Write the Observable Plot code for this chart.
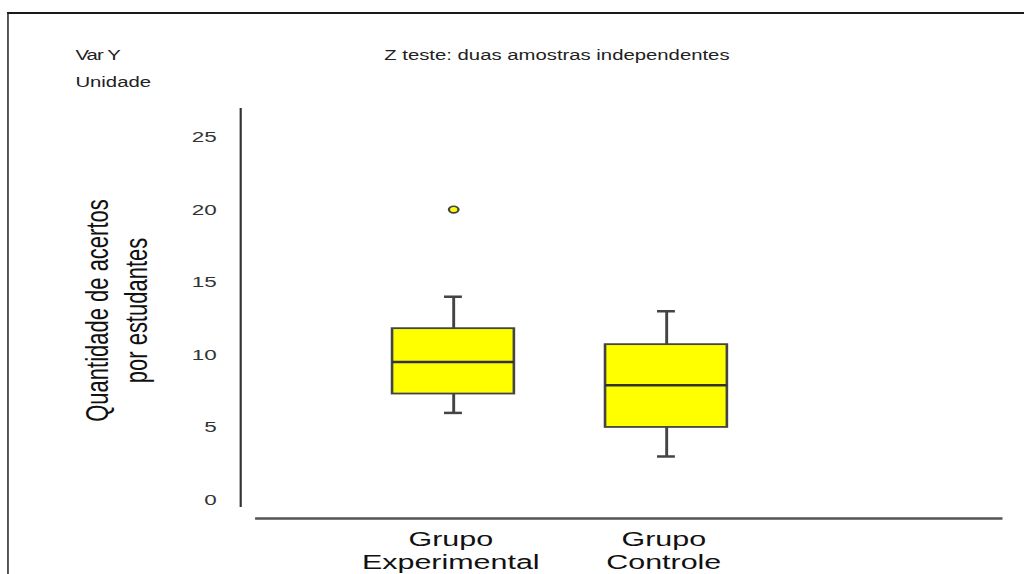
<!DOCTYPE html>
<html>
<head>
<meta charset="utf-8">
<script src="https://cdn.jsdelivr.net/npm/d3@7"></script>
<script src="https://cdn.jsdelivr.net/npm/@observablehq/plot@0.6"></script>
<style>
  html, body { margin: 0; padding: 0; background: #fff; overflow: hidden; }
  #stage { position: absolute; left: 0; top: 0; width: 706px; height: 574px;
           transform: scaleX(1.45); transform-origin: 0 0;
           font-family: "Liberation Sans", Arial, sans-serif; }
  #border { position: absolute; left: 5px; top: 12px; width: 800px; height: 700px;
            border-top: 2px solid #1a1a1a; border-left: 1.5px solid #1a1a1a; box-sizing: border-box; }
  .hdr { position: absolute; font-size: 14px; line-height: 16px; color: #222; white-space: nowrap; }
  #chart { position: absolute; left: 0; top: 100px; }
</style>
</head>
<body>
<div id="stage">
  <div id="border"></div>
  <div class="hdr" id="varY" style="left:52px; top:47px; letter-spacing:-0.6px;"></div>
  <div class="hdr" id="unit" style="left:52px; top:74px;"></div>
  <div class="hdr" id="title" style="left:265px; top:47px;"></div>
  <div id="chart"></div>
</div>
<script>
// ---- data ----
const groups = ["Grupo\nExperimental", "Grupo\nControle"];
const q1 = [7.3, 5.0];
const medians = [9.5, 7.9];
const q3 = [11.8, 10.7];
const whiskerLow = [6, 3];
const whiskerHigh = [14, 13];
const outlierGroupIndex = [0];
const outlierValues = [20];
const yTicks = [0, 5, 10, 15, 20, 25];
const yLabel = "Quantidade de acertos\npor estudantes";
const headerVar = "Var Y";
const headerUnit = "Unidade";
const titleText = "Z teste: duas amostras independentes";

document.getElementById("varY").textContent = headerVar;
document.getElementById("unit").textContent = headerUnit;
document.getElementById("title").textContent = titleText;

const rows = groups.map((g, i) => ({
  pos: i + 1, label: g, q1: q1[i], med: medians[i], q3: q3[i], lo: whiskerLow[i], hi: whiskerHigh[i]
}));
const outliers = outlierGroupIndex.map((gi, k) => ({ pos: gi + 1, value: outlierValues[k] }));

const bw = 0.286;   // half box width (x units)
const cw = 0.042;   // half cap width
const xDomain = [0, 3.6];
const yDomain = [-1.27, 26.96];

const chart = Plot.plot({
  width: 706,
  height: 474,
  marginLeft: 165.5,
  marginRight: 11.7,
  marginTop: 8,
  marginBottom: 56,
  x: { domain: xDomain, axis: null },
  y: { domain: yDomain, axis: null },
  style: { fontFamily: '"Liberation Sans", Arial, sans-serif', background: "transparent", color: "#222" },
  marks: [
    // axis lines
    Plot.ruleX([xDomain[0]], { y1: -0.52, y2: yDomain[1], stroke: "#333", strokeWidth: 1.5 }),
    Plot.ruleY([yDomain[0]], { x1: 0.071, x2: 3.58, stroke: "#555", strokeWidth: 2.5 }),
    // whiskers
    Plot.ruleX(rows, { x: "pos", y1: "lo", y2: "q1", stroke: "#444", strokeWidth: 2 }),
    Plot.ruleX(rows, { x: "pos", y1: "q3", y2: "hi", stroke: "#444", strokeWidth: 2 }),
    Plot.ruleY(rows, { y: "lo", x1: d => d.pos - cw, x2: d => d.pos + cw, stroke: "#444", strokeWidth: 2.5 }),
    Plot.ruleY(rows, { y: "hi", x1: d => d.pos - cw, x2: d => d.pos + cw, stroke: "#444", strokeWidth: 2.5 }),
    // boxes
    Plot.rect(rows, { x1: d => d.pos - bw, x2: d => d.pos + bw, y1: "q1", y2: "q3",
                      fill: "#ffff00", stroke: "#444", strokeWidth: 1.8 }),
    Plot.ruleY(rows, { y: "med", x1: d => d.pos - bw, x2: d => d.pos + bw, stroke: "#333", strokeWidth: 2.5 }),
    // outliers
    Plot.dot(outliers, { x: "pos", y: "value", r: 3.3, fill: "#ffff00", stroke: "#444", strokeWidth: 1.6 }),
    // axes
    Plot.axisY({ ticks: yTicks, tickSize: 0, tickPadding: 16.5, fontSize: 15.5, fill: "#333", label: null }),
    Plot.axisX({ ticks: [1, 2], tickFormat: d => groups[d - 1], tickSize: 0, tickPadding: 11,
                 fontSize: 21, lineHeight: 1.1, fill: "#111", dx: -2, label: null }),
    // y label
    Plot.text([yLabel], { frameAnchor: "left", text: d => d, rotate: -90, textAnchor: "middle",
                          lineAnchor: "middle", dx: -86.5, dy: -3,
                          fontSize: 22, lineHeight: 1.22, fill: "#111" })
  ]
});
document.getElementById("chart").append(chart);
</script>
</body>
</html>
